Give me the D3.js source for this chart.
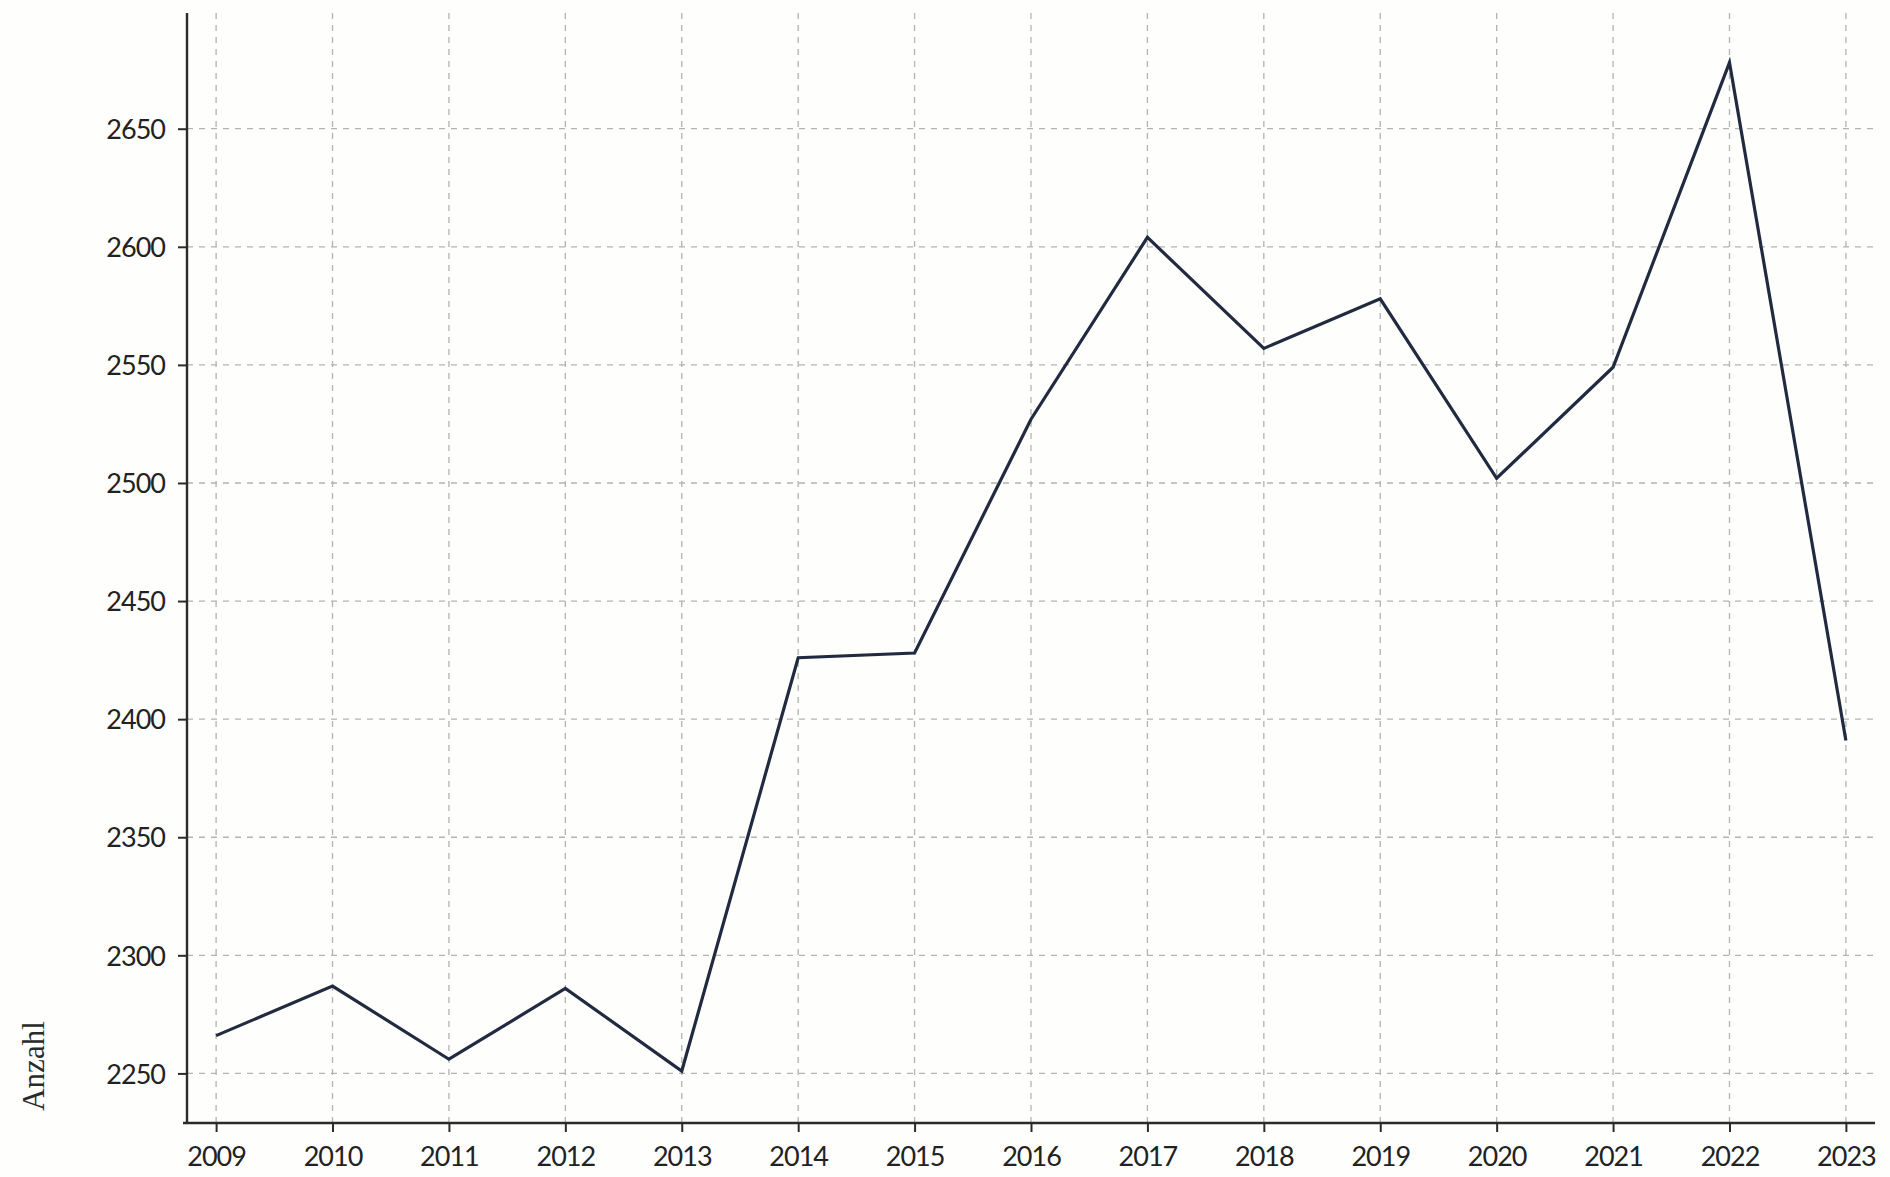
<!DOCTYPE html>
<html>
<head>
<meta charset="utf-8">
<script src="https://cdn.jsdelivr.net/npm/d3@7"></script>
<style>
  html, body { margin: 0; padding: 0; background: #fefefd; }
  svg { display: block; }
  .tick text { font-family: Lato, "Open Sans", sans-serif; font-size: 27px; fill: #222; letter-spacing: -1px; }
</style>
</head>
<body>
<script>
const years = [2009, 2010, 2011, 2012, 2013, 2014, 2015, 2016, 2017, 2018, 2019, 2020, 2021, 2022, 2023];
const counts = [2266, 2287, 2256, 2286, 2251, 2426, 2428, 2527, 2604, 2557, 2578, 2502, 2549, 2678, 2391];
const yTicks = [2250, 2300, 2350, 2400, 2450, 2500, 2550, 2600, 2650];
const yLabel = "Anzahl";

const W = 1890, H = 1177;
const mLeft = 187, mRight = 1875, mTop = 13, mBottom = 1123;

const svg = d3.select("body").append("svg").attr("width", W).attr("height", H);

const x = d3.scaleLinear().domain([2008.75, 2023.25]).range([mLeft, mRight]);
const y = d3.scaleLinear().domain([2229, 2699]).range([mBottom, mTop]);

// grid
const grid = svg.append("g").attr("stroke", "#9a9a9a").attr("stroke-width", 1.3).attr("stroke-dasharray", "6,6").attr("opacity", 0.75);
grid.selectAll("line.v").data(years).join("line").attr("class", "v")
  .attr("x1", d => x(d)).attr("x2", d => x(d))
  .attr("y1", mTop).attr("y2", mBottom);
grid.selectAll("line.h").data(yTicks).join("line").attr("class", "h")
  .attr("x1", mLeft).attr("x2", mRight)
  .attr("y1", d => y(d)).attr("y2", d => y(d));

// axes
const xAxis = d3.axisBottom(x).tickValues(years).tickFormat(d3.format("d")).tickSize(9).tickPadding(15);
const yAxis = d3.axisLeft(y).tickValues(yTicks).tickFormat(d3.format("d")).tickSize(9).tickPadding(13);

const gx = svg.append("g").attr("transform", `translate(0,${mBottom})`).call(xAxis);
const gy = svg.append("g").attr("transform", `translate(${mLeft},0)`).call(yAxis);
[gx, gy].forEach(g => {
  g.select(".domain").attr("stroke", "#2b2b2b").attr("stroke-width", 2.4);
  g.selectAll(".tick line").attr("stroke", "#2b2b2b").attr("stroke-width", 2);
});
gx.select(".domain").attr("d", `M${mLeft - 4},0H${mRight}`);
gy.select(".domain").attr("d", `M0,${mTop}V${mBottom}`);
gy.selectAll(".tick text").attr("dy", "0.36em");

// line
const line = d3.line().x((d, i) => x(years[i])).y(d => y(d));
svg.append("path").datum(counts)
  .attr("fill", "none")
  .attr("stroke", "#222a40")
  .attr("stroke-width", 3.2)
  .attr("stroke-linejoin", "miter")
  .attr("d", line);

// y label
svg.append("text")
  .attr("transform", `translate(44,1066) rotate(-90)`)
  .attr("text-anchor", "middle")
  .attr("font-family", "'Liberation Serif', 'DejaVu Serif', serif")
  .attr("font-size", 31)
  .attr("fill", "#2a2a2a")
  .text(yLabel);
</script>
</body>
</html>
